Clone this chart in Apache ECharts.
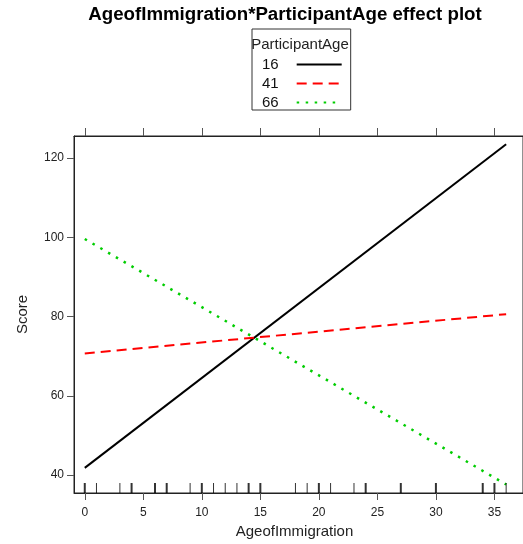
<!DOCTYPE html>
<html>
<head>
<meta charset="utf-8">
<script src="https://cdn.jsdelivr.net/npm/echarts@6/dist/echarts.min.js"></script>
<style>html,body{margin:0;padding:0;background:#fff}#c{width:523px;height:544px}</style>
</head>
<body>
<div id="c"></div>
<script>
// ---- data ----
const ageOfImmigration = [0, 36];
const score16 = [41.8, 123.5];
const score41 = [70.7, 80.6];
const score66 = [99.6, 37.6];
const participantAges = ['16', '41', '66'];
const xTicks = [0, 5, 10, 15, 20, 25, 30, 35];
const yTicks = [40, 60, 80, 100, 120];
const rugValues = [0, 1, 3, 4, 6, 7, 9, 10, 11, 12, 13, 14, 15, 18, 19, 20, 21, 23, 24, 27, 30, 34, 35, 36];
const rugCounts = [2, 1, 1, 2, 2, 2, 1, 2, 1, 1, 1, 2, 2, 1, 1, 2, 1, 1, 2, 2, 2, 2, 2, 1];

const FONT = '"Liberation Sans", Arial, sans-serif';
const X_MIN = -0.92, X_MAX = 37.44, Y_MIN = 35.45, Y_MAX = 125.6;

function pairs(xs, ys) { return xs.map((x, i) => [x, ys[i]]); }

const chart = echarts.init(document.getElementById('c'), null, { renderer: 'canvas' });
chart.setOption({
  animation: false,
  backgroundColor: '#fff',
  textStyle: { fontFamily: FONT },
  grid: { left: 74, top: 136, bottom: 51, right: -11.3, show: true, borderColor: '#222', borderWidth: 1, backgroundColor: 'transparent' },
  xAxis: [{
    type: 'value', min: X_MIN, max: X_MAX, position: 'bottom',
    splitLine: { show: false },
    axisLine: { show: true, onZero: false, lineStyle: { color: '#222', width: 1 } },
    axisTick: { show: true, inside: false, customValues: xTicks, length: 7, lineStyle: { color: '#555' } },
    axisLabel: { customValues: xTicks, fontSize: 12, color: '#222', margin: 14, fontFamily: FONT },
    name: 'AgeofImmigration', nameLocation: 'middle', nameGap: 30,
    nameTextStyle: { fontSize: 15, color: '#222', fontFamily: FONT, padding: [0, 8, 0, 0] }
  }, {
    type: 'value', min: X_MIN, max: X_MAX, position: 'top',
    splitLine: { show: false },
    axisLine: { show: true, onZero: false, lineStyle: { color: '#222', width: 1 } },
    axisTick: { show: true, inside: false, customValues: xTicks, length: 8, lineStyle: { color: '#555' } },
    axisLabel: { show: false }
  }],
  yAxis: [{
    type: 'value', min: Y_MIN, max: Y_MAX, position: 'left',
    splitLine: { show: false },
    axisLine: { show: true, onZero: false, lineStyle: { color: '#222', width: 1 } },
    axisTick: { show: true, inside: false, customValues: yTicks, length: 7, lineStyle: { color: '#555' } },
    axisLabel: { customValues: yTicks, fontSize: 12, color: '#222', margin: 10, fontFamily: FONT },
    name: 'Score', nameLocation: 'middle', nameGap: 44, nameRotate: 90,
    nameTextStyle: { fontSize: 15, color: '#222', fontFamily: FONT }
  }],
  legend: {
    show: true, left: 252, top: 29, orient: 'vertical', align: 'right',
    itemWidth: 45, itemHeight: 14, itemGap: 4,
    padding: [28, 8, 0, 10],
    borderColor: '#333', borderWidth: 1,
    selectedMode: false,
    itemStyle: { opacity: 0, borderWidth: 0 },
    data: participantAges,
    textStyle: { fontSize: 15, color: '#111', fontFamily: FONT, padding: [0, 13, 0, 0] }
  },
  graphic: [
    { type: 'text', x: 285, y: 15, silent: true,
      style: { text: 'AgeofImmigration*ParticipantAge effect plot', font: 'bold 18.7px ' + FONT, fill: '#000', align: 'center', verticalAlign: 'middle' } },
    { type: 'text', x: 300, y: 45, silent: true,
      style: { text: 'ParticipantAge', font: '15px ' + FONT, fill: '#222', align: 'center', verticalAlign: 'middle' } }
  ],
  series: [
    { name: participantAges[0], type: 'line', symbol: 'none', data: pairs(ageOfImmigration, score16),
      lineStyle: { color: '#000', width: 2, type: 'solid' }, itemStyle: { color: '#000' }, z: 3 },
    { name: participantAges[1], type: 'line', symbol: 'none', data: pairs(ageOfImmigration, score41),
      lineStyle: { color: '#ff0000', width: 2, type: [10, 6] }, itemStyle: { color: '#ff0000' }, z: 3 },
    { name: participantAges[2], type: 'line', symbol: 'none', data: pairs(ageOfImmigration, score66),
      lineStyle: { color: '#00cd00', width: 2.5, type: [2.5, 6.5] }, itemStyle: { color: '#00cd00' }, z: 3 },
    { name: 'rug', type: 'scatter', silent: true, clip: false, symbol: 'rect', symbolOffset: [0, -5],
      itemStyle: { color: '#000' },
      data: rugValues.map((v, i) => ({ value: [v, Y_MIN], symbolSize: [rugCounts[i] > 1 ? 2 : 1, 10] })), z: 4 }
  ]
});
</script>
</body>
</html>
